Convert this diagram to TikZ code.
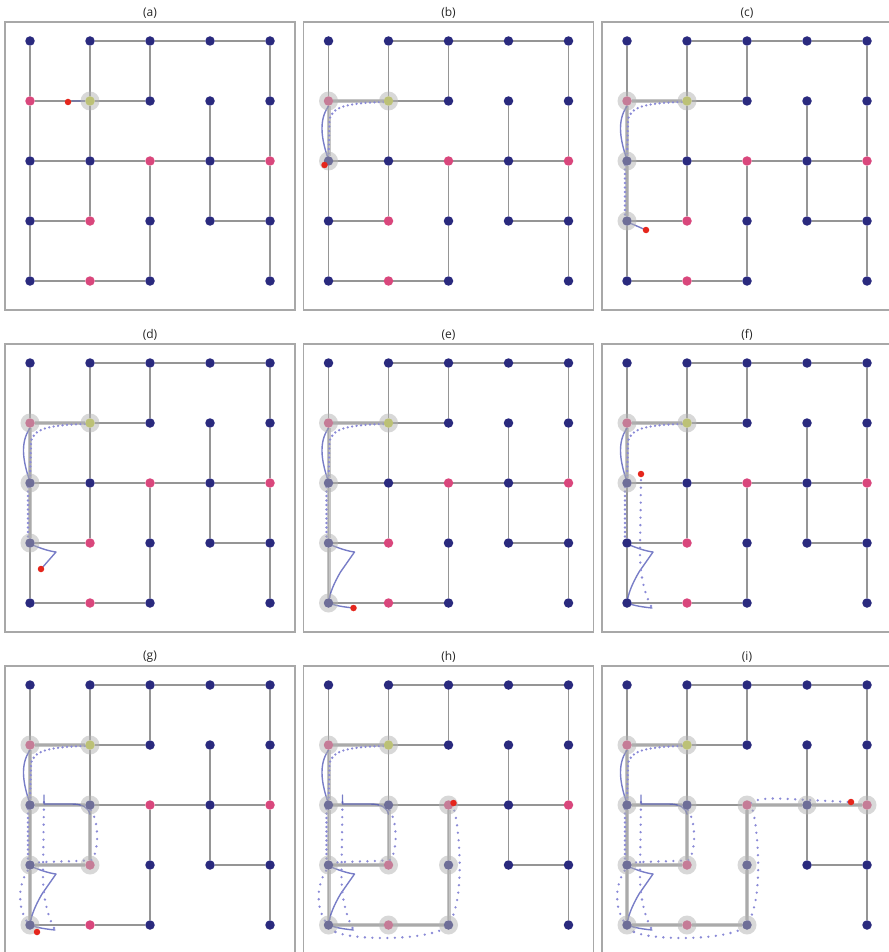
\documentclass[tikz,border=0pt]{standalone}
\usepackage{fontspec}
\newfontfamily\titlefont{Open Sans}
\definecolor{nodenavy}{HTML}{2A2A7E}
\definecolor{nodepink}{HTML}{D9477C}
\definecolor{nodegold}{HTML}{C8D23A}
\definecolor{mazegray}{HTML}{959595}
\definecolor{framegray}{HTML}{A8A8A8}
\definecolor{robotred}{HTML}{E5261C}
\definecolor{trailblue}{HTML}{4B52B4}
\definecolor{dotblue}{HTML}{8A8AD6}
\pgfdeclarelayer{back}
\pgfsetlayers{back,main}
\tikzset{
  mazenode/.style={circle, inner sep=0pt, minimum size=9.5pt},
  mazeedge/.style={draw=mazegray, line width=1.5pt},
  visited/.style={draw=black!30, line width=4pt, draw opacity=0.75},
  halo/.style={circle, inner sep=0pt, minimum size=19pt, fill=black!30, fill opacity=0.5},
  robot/.style={circle, inner sep=0pt, minimum size=6.5pt, fill=robotred},
  slowtrail/.style={draw=trailblue, line width=1.4pt, draw opacity=0.75, line cap=round, line join=round},
  fasttrail/.style={draw=dotblue, line width=2.6pt, line cap=round, dash pattern=on 0pt off 4.5pt},
  sparsetrail/.style={fasttrail, dash pattern=on 0pt off 7.5pt},
  panelframe/.style={draw=framegray, line width=1.3pt},
  paneltitle/.style={font=\titlefont\fontsize{12}{14}\selectfont, text=black!85}
}
% maze of one panel, in panel coordinates
\newcommand{\mazegrid}[1]{%
  \node[paneltitle] (#1-title) at (150,13) {(#1)};
  \foreach \i/\j/\c in {0/0/navy,1/0/navy,2/0/navy,3/0/navy,4/0/navy,
      0/1/pink,1/1/gold,2/1/navy,3/1/navy,4/1/navy,
      0/2/navy,1/2/navy,2/2/pink,3/2/navy,4/2/pink,
      0/3/navy,1/3/pink,2/3/navy,3/3/navy,4/3/navy,
      0/4/navy,1/4/pink,2/4/navy,4/4/navy}
    \node[mazenode, fill=node\c] (#1-\i-\j) at ({30+60*\i},{41+60*\j}) {};
  \begin{pgfonlayer}{back}
    \draw[panelframe] (5,22) rectangle (295,310);
    \foreach \u/\v in {1-0/2-0,2-0/3-0,3-0/4-0,0-1/1-1,1-1/2-1,
        0-2/1-2,1-2/2-2,2-2/3-2,3-2/4-2,0-3/1-3,3-3/4-3,0-4/1-4,1-4/2-4,
        0-0/0-1,0-1/0-2,0-2/0-3,0-3/0-4,1-0/1-1,1-1/1-2,1-2/1-3,
        2-0/2-1,2-2/2-3,2-3/2-4,3-1/3-2,3-2/3-3,
        4-0/4-1,4-1/4-2,4-2/4-3,4-3/4-4}
      \draw[mazeedge] (#1-\u) -- (#1-\v);
  \end{pgfonlayer}}
% pieces of the robot's track
\newcommand{\legOne}{%
  \draw[fasttrail] (85,102) .. controls (55,103) and (33,105) .. (31,120) -- (30,157);
  \draw[slowtrail] (30,106) .. controls (19,122) and (24,142) .. (30,160);}
\newcommand{\legTwo}{\draw[fasttrail] (28,165) -- (28,217);}
\newcommand{\legThree}{%
  \draw[slowtrail] (30,222) .. controls (40,226) and (48,229) .. (56,230) -- (42,250)
    .. controls (35,262) and (31,272) .. (30,281) .. controls (38,284) and (46,285) .. (55,286);}
\newcommand{\legFour}{\draw[sparsetrail] (54,284) .. controls (46,268) and (43,250) .. (43,230) -- (44,156);}
\newcommand{\legFive}{%
  \draw[slowtrail] (44,151) -- (44,160) -- (72,160) .. controls (82,160) and (88,163) .. (90,170);
  \draw[sparsetrail] (91,166) .. controls (99,178) and (99,206) .. (92,216)
    .. controls (70,218) and (48,217) .. (34,219) .. controls (16,235) and (14,272) .. (37,288);}
\newcommand{\legSix}{\draw[sparsetrail] (37,288) .. controls (55,296) and (120,297) .. (145,285)
    .. controls (161,275) and (163,230) .. (160,195) .. controls (158,175) .. (154,160);}
\newcommand{\legSeven}{\draw[sparsetrail] (154,159) .. controls (160,154) and (176,154) .. (192,155) -- (252,158);}
\begin{document}
\begin{tikzpicture}[x=1pt, y=-1pt]
  \useasboundingbox (0,0) rectangle (888,952);

  % (a)
  \begin{scope}
    \mazegrid{a}
    \begin{pgfonlayer}{back}
      \draw[slowtrail, draw opacity=0.4] (72,101) -- (85,101);
    \end{pgfonlayer}
    \node[halo] (a-halo-1-1) at (a-1-1) {};
    \node[robot] (a-robot) at (68,102) {};
  \end{scope}

  % (b)
  \begin{scope}[shift={(298.5,0)}]
    \mazegrid{b}
    \begin{pgfonlayer}{back}
      \foreach \u/\v in {0-1/1-1,0-1/0-2} \draw[visited] (b-\u) -- (b-\v);
      \legOne
    \end{pgfonlayer}
    \foreach \n in {0-1,1-1,0-2} \node[halo] (b-halo-\n) at (b-\n) {};
    \node[robot] (b-robot) at (26,165) {};
  \end{scope}

  % (c)
  \begin{scope}[shift={(597,0)}]
    \mazegrid{c}
    \begin{pgfonlayer}{back}
      \foreach \u/\v in {0-1/1-1,0-1/0-2,0-2/0-3} \draw[visited] (c-\u) -- (c-\v);
      \legOne \legTwo
      \draw[slowtrail] (30,222) .. controls (38,225) and (44,228) .. (49,230);
    \end{pgfonlayer}
    \foreach \n in {0-1,1-1,0-2,0-3} \node[halo] (c-halo-\n) at (c-\n) {};
    \node[robot] (c-robot) at (49,230) {};
  \end{scope}

  % (d)
  \begin{scope}[shift={(0,322)}]
    \mazegrid{d}
    \begin{pgfonlayer}{back}
      \foreach \u/\v in {0-1/1-1,0-1/0-2,0-2/0-3} \draw[visited] (d-\u) -- (d-\v);
      \legOne \legTwo
      \draw[slowtrail] (30,222) .. controls (40,226) and (48,229) .. (56,230) -- (42,246);
    \end{pgfonlayer}
    \foreach \n in {0-1,1-1,0-2,0-3} \node[halo] (d-halo-\n) at (d-\n) {};
    \node[robot] (d-robot) at (41,247) {};
  \end{scope}

  % (e)
  \begin{scope}[shift={(298.5,322)}]
    \mazegrid{e}
    \begin{pgfonlayer}{back}
      \foreach \u/\v in {0-1/1-1,0-1/0-2,0-2/0-3,0-3/0-4} \draw[visited] (e-\u) -- (e-\v);
      \legOne \legTwo \legThree
    \end{pgfonlayer}
    \foreach \n in {0-1,1-1,0-2,0-3,0-4} \node[halo] (e-halo-\n) at (e-\n) {};
    \node[robot] (e-robot) at (55,286) {};
  \end{scope}

  % (f)
  \begin{scope}[shift={(597,322)}]
    \mazegrid{f}
    \begin{pgfonlayer}{back}
      \foreach \u/\v in {0-1/1-1,0-1/0-2} \draw[visited] (f-\u) -- (f-\v);
      \legOne \legTwo \legThree \legFour
    \end{pgfonlayer}
    \foreach \n in {0-1,1-1,0-2} \node[halo] (f-halo-\n) at (f-\n) {};
    \node[robot] (f-robot) at (44,152) {};
  \end{scope}

  % (g)
  \begin{scope}[shift={(0,644)}]
    \mazegrid{g}
    \begin{pgfonlayer}{back}
      \foreach \u/\v in {0-1/1-1,0-1/0-2,0-2/0-3,0-2/1-2,1-2/1-3,1-3/0-3,0-3/0-4}
        \draw[visited] (g-\u) -- (g-\v);
      \legOne \legTwo \legThree \legFour \legFive
    \end{pgfonlayer}
    \foreach \n in {0-1,1-1,0-2,1-2,0-3,1-3,0-4} \node[halo] (g-halo-\n) at (g-\n) {};
    \node[robot] (g-robot) at (37,288) {};
  \end{scope}

  % (h)
  \begin{scope}[shift={(298.5,644)}]
    \mazegrid{h}
    \begin{pgfonlayer}{back}
      \foreach \u/\v in {0-1/1-1,0-1/0-2,0-2/0-3,0-2/1-2,1-2/1-3,1-3/0-3,0-3/0-4,
          0-4/1-4,1-4/2-4,2-4/2-3,2-3/2-2}
        \draw[visited] (h-\u) -- (h-\v);
      \legOne \legTwo \legThree \legFour \legFive \legSix
    \end{pgfonlayer}
    \foreach \n in {0-1,1-1,0-2,1-2,0-3,1-3,0-4,1-4,2-4,2-3,2-2}
      \node[halo] (h-halo-\n) at (h-\n) {};
    \node[robot] (h-robot) at (155,159) {};
  \end{scope}

  % (i)
  \begin{scope}[shift={(597,644)}]
    \mazegrid{i}
    \begin{pgfonlayer}{back}
      \foreach \u/\v in {0-1/1-1,0-1/0-2,0-2/0-3,0-2/1-2,1-2/1-3,1-3/0-3,0-3/0-4,
          0-4/1-4,1-4/2-4,2-4/2-3,2-3/2-2,2-2/3-2,3-2/4-2}
        \draw[visited] (i-\u) -- (i-\v);
      \legOne \legTwo \legThree \legFour \legFive \legSix \legSeven
    \end{pgfonlayer}
    \foreach \n in {0-1,1-1,0-2,1-2,0-3,1-3,0-4,1-4,2-4,2-3,2-2,3-2,4-2}
      \node[halo] (i-halo-\n) at (i-\n) {};
    \node[robot] (i-robot) at (254,158) {};
  \end{scope}
\end{tikzpicture}
\end{document}
